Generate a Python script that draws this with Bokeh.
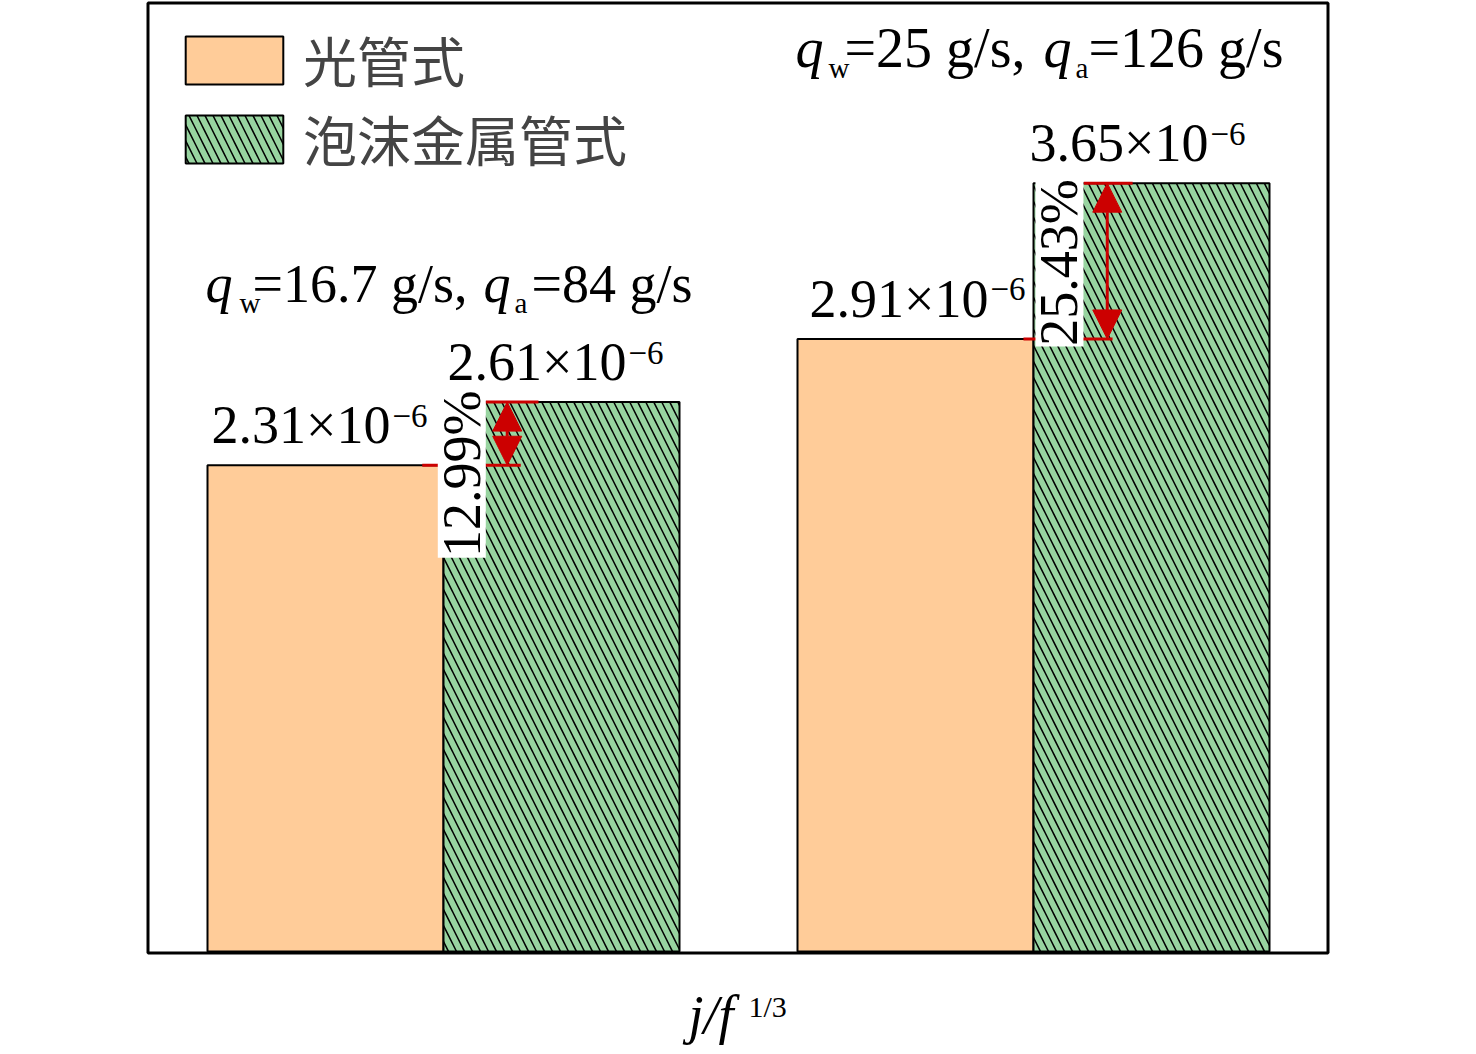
from math import pi
from bokeh.plotting import figure
from bokeh.models import (Label, Arrow, NormalHead, ColumnDataSource, Range1d,
                          Legend, LegendItem, BoxAnnotation)
from bokeh.embed import file_html
from bokeh.resources import INLINE

# ---------------- data ----------------
groups = ["qw=16.7 g/s, qa=84 g/s", "qw=25 g/s, qa=126 g/s"]
qw_values = ["16.7", "25"]
qa_values = ["84", "126"]
series = ["光管式", "泡沫金属管式"]
smooth_tube = [2.31, 2.91]          # j/f^(1/3), x10^-6
foam_tube = [2.61, 3.65]            # j/f^(1/3), x10^-6
increase = ["12.99%", "25.43%"]
exponent = "\u22126"
x_title_main = "j/f"
x_title_sup = "1/3"

# ---------------- layout ----------------
W, H = 1472, 1052
SX, SY = 590.0, 210.5            # pixels per data unit
X0 = 1 - 443 / SX                # data x at left canvas edge
Y1 = 951 / SY                    # data y at top canvas edge
X1 = X0 + W / SX
Y0 = Y1 - H / SY
BK = 0.35                        # alphabetic-baseline correction (x font size)


def dx(px):
    return X0 + px / SX


def dy(py):
    return Y1 - py / SY


SERIF = "Liberation Serif"
CJK = "Noto Sans CJK SC"
FS = 54
EXP_FS = 33
ORANGE = "#FFCC99"
GREEN = "#98D4A0"
RED = "#CC0000"
BW = 0.4

xg = [i + 1 for i in range(len(groups))]
x_smooth = [x - BW / 2 for x in xg]
x_foam = [x + BW / 2 for x in xg]

p = figure(width=W, height=H, output_backend="svg", toolbar_location=None,
           x_range=Range1d(X0, X1), y_range=Range1d(Y0, Y1),
           x_axis_type=None, y_axis_type=None,
           min_border_left=0, min_border_right=0,
           min_border_top=0, min_border_bottom=0)
p.grid.visible = False
p.outline_line_color = None
p.background_fill_color = "white"
p.border_fill_color = "white"

src_s = ColumnDataSource(dict(x=x_smooth, top=smooth_tube))
src_f = ColumnDataSource(dict(x=x_foam, top=foam_tube))
r_s = p.vbar(x="x", top="top", width=BW, bottom=0, source=src_s,
             fill_color=ORANGE, line_color="black", line_width=2)
r_f = p.vbar(x="x", top="top", width=BW, bottom=0, source=src_f,
             fill_color=GREEN, line_color="black", line_width=2,
             hatch_pattern="left_diagonal_line", hatch_color="black",
             hatch_weight=1.5, hatch_scale=16)

# plot box
p.add_layout(BoxAnnotation(left=dx(147.5), right=dx(1327.5), top=dy(2.5),
                           bottom=dy(952.5), fill_alpha=0, line_color="black",
                           line_alpha=1.0, line_width=3))

# red reference lines
low_ext = [(-0.036, 0.131), (-0.017, 0.134)]
top_ext = [(0.071, 0.161), (0.085, 0.168)]
seg = dict(x0=[], x1=[], y0=[], y1=[])
for i, g in enumerate(xg):
    seg["x0"] += [g + low_ext[i][0], g + top_ext[i][0]]
    seg["x1"] += [g + low_ext[i][1], g + top_ext[i][1]]
    seg["y0"] += [smooth_tube[i], foam_tube[i]]
    seg["y1"] += [smooth_tube[i], foam_tube[i]]
p.segment(x0="x0", y0="y0", x1="x1", y1="y1", source=ColumnDataSource(seg),
          line_color=RED, line_width=3)

arrow_dx = [0.108, 0.125]
for i, g in enumerate(xg):
    p.add_layout(Arrow(
        x_start=g + arrow_dx[i], y_start=smooth_tube[i],
        x_end=g + arrow_dx[i], y_end=foam_tube[i],
        line_color=RED, line_width=3,
        start=NormalHead(size=29, fill_color=RED, line_color=RED, line_width=1),
        end=NormalHead(size=29, fill_color=RED, line_color=RED, line_width=1)))

# percentage labels (rotated, white box)
pct_dx = [0.031, 0.044]
pct_oy = [-40, -1.5]
pct_x = [g + pct_dx[i] for i, g in enumerate(xg)]
pct_y = [(smooth_tube[i] + foam_tube[i]) / 2 + pct_oy[i] / SY for i in range(len(xg))]
p.rect(x=pct_x, y=pct_y, width=48, height=168, width_units="screen",
       height_units="screen", fill_color="white", line_color=None)
for i in range(len(xg)):
    p.add_layout(Label(x=pct_x[i], y=pct_y[i], text=increase[i], angle=pi / 2,
                       text_align="center", text_baseline="middle",
                       text_font=SERIF, text_font_size=f"{FS}px",
                       text_color="black"))

# value labels
split_off = [[65, 65], [73, 57]]  # pixel offsets (smooth, foam) per group
for i in range(len(xg)):
    for j, (xb, val) in enumerate([(x_smooth[i], smooth_tube[i]),
                                   (x_foam[i], foam_tube[i])]):
        off = split_off[i][j]
        p.add_layout(Label(x=xb, y=val, x_offset=off, y_offset=21 + BK * FS,
                           text=f"{val:.2f}×10", text_align="right",
                           text_baseline="alphabetic", text_font=SERIF,
                           text_font_size=f"{FS}px", text_color="black"))
        p.add_layout(Label(x=xb, y=val, x_offset=off + 2,
                           y_offset=21 + 17 + BK * EXP_FS,
                           text=exponent, text_align="left",
                           text_baseline="alphabetic", text_font=SERIF,
                           text_font_size=f"{EXP_FS}px", text_color="black"))

# condition labels  (pixel positions of the pieces)
cond_pos = [
    dict(q1=205, w=239, e1=252, q2=483, a=514, e2=531, base=302, fs=54),
    dict(q1=795, w=828, e1=844, q2=1043, a=1075, e2=1088, base=67, fs=56),
]


def put(text, px, py, size, italic=False):
    p.add_layout(Label(x=dx(px), y=dy(py - BK * size), text=text,
                       text_align="left", text_baseline="alphabetic",
                       text_font=SERIF, text_font_size=f"{size}px",
                       text_font_style="italic" if italic else "normal",
                       text_color="black"))


for i in range(len(groups)):
    c = cond_pos[i]
    put("q", c["q1"], c["base"], c["fs"], True)
    put("w", c["w"], c["base"] + 11, 29)
    put(f"={qw_values[i]} g/s,", c["e1"], c["base"], c["fs"])
    put("q", c["q2"], c["base"], c["fs"], True)
    put("a", c["a"], c["base"] + 11, 29)
    put(f"={qa_values[i]} g/s", c["e2"], c["base"], c["fs"])

# x title
put(x_title_main, 688, 1033, FS, True)
put(x_title_sup, 748, 1016, 30)

# legend
legend = Legend(items=[LegendItem(label=series[0], renderers=[r_s]),
                       LegendItem(label=series[1], renderers=[r_f])],
                location=(173, 874), glyph_width=122, glyph_height=60,
                label_standoff=8, label_text_font=CJK,
                label_text_font_size=f"{FS}px", label_height=48,
                spacing=0, padding=0, margin=0,
                border_line_color=None, background_fill_alpha=0)
p.add_layout(legend)

open("out.html", "w").write(file_html(p, INLINE))
